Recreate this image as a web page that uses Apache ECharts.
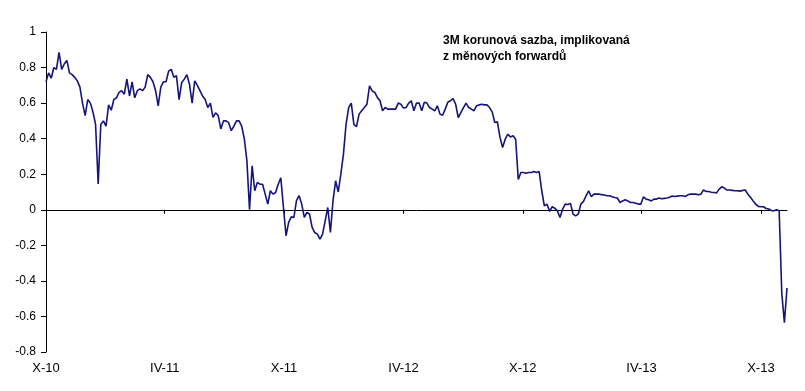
<!DOCTYPE html>
<html>
<head>
<meta charset="utf-8">
<script src="https://cdn.jsdelivr.net/npm/echarts@6/dist/echarts.min.js"></script>
<style>html,body{margin:0;padding:0;background:#fff}#c{width:805px;height:391px}</style>
</head>
<body>
<div id="c"></div>
<script>
// Observation start date and sampling step (calendar days)
const startDate = '2010-10-01';
const endDate = '2013-11-10';
const stepDays = 4;

// Tick labels (month in Roman numerals - year) and their dates
const tickLabels = ['X-10', 'IV-11', 'X-11', 'IV-12', 'X-12', 'IV-13', 'X-13'];
const tickDates = ['2010-10-01', '2011-04-01', '2011-10-01', '2012-04-01', '2012-10-01', '2013-04-01', '2013-10-01'];

// 3M CZK rate implied by FX forwards (%), one value every stepDays from startDate
const rateValues = [
  0.72, 0.77, 0.74, 0.80, 0.79, 0.885, 0.79, 0.82, 0.84, 0.77,
  0.76, 0.745, 0.725, 0.69, 0.60, 0.53, 0.62, 0.60, 0.55, 0.48,
  0.145, 0.48, 0.50, 0.47, 0.59, 0.56, 0.62, 0.63, 0.66, 0.67,
  0.65, 0.735, 0.64, 0.72, 0.63, 0.67, 0.68, 0.67, 0.69, 0.76,
  0.745, 0.72, 0.67, 0.585, 0.69, 0.72, 0.72, 0.78, 0.79, 0.745,
  0.755, 0.62, 0.715, 0.735, 0.76, 0.705, 0.60, 0.725, 0.70, 0.67,
  0.64, 0.62, 0.575, 0.60, 0.52, 0.545, 0.53, 0.455, 0.50, 0.50,
  0.49, 0.445, 0.47, 0.50, 0.50, 0.47, 0.40, 0.275, 0.0, 0.247,
  0.107, 0.154, 0.144, 0.144, 0.088, 0.032, 0.107, 0.088, 0.097, 0.144,
  0.18, 0.013, -0.146, -0.071, -0.04, -0.043, 0.051, 0.079, 0.032, -0.043,
  -0.015, -0.024, -0.099, -0.128, -0.137, -0.165, -0.137, -0.062, 0.013, -0.128,
  0.051, 0.163, 0.10, 0.20, 0.313, 0.482, 0.575, 0.60, 0.48, 0.467,
  0.538, 0.557, 0.575, 0.594, 0.697, 0.669, 0.66, 0.632, 0.613, 0.557,
  0.575, 0.566, 0.566, 0.566, 0.566, 0.60, 0.594, 0.572, 0.575, 0.60,
  0.613, 0.557, 0.60, 0.60, 0.557, 0.605, 0.60, 0.575, 0.566, 0.557,
  0.585, 0.538, 0.532, 0.566, 0.605, 0.613, 0.626, 0.594, 0.519, 0.547,
  0.575, 0.60, 0.575, 0.566, 0.557, 0.585, 0.59, 0.594, 0.59, 0.59,
  0.575, 0.551, 0.491, 0.495, 0.407, 0.35, 0.397, 0.425, 0.41, 0.416,
  0.397, 0.17, 0.21, 0.21, 0.206, 0.21, 0.21, 0.215, 0.21, 0.215,
  0.107, 0.022, 0.032, -0.009, 0.017, 0.009, -0.006, -0.043, 0.004, 0.032,
  0.03, 0.036, -0.024, -0.034, -0.024, 0.032, 0.047, 0.079, 0.107, 0.073,
  0.088, 0.088, 0.088, 0.085, 0.083, 0.079, 0.079, 0.073, 0.069, 0.066,
  0.041, 0.05, 0.056, 0.05, 0.041, 0.041, 0.037, 0.032, 0.032, 0.073,
  0.06, 0.056, 0.05, 0.06, 0.06, 0.066, 0.062, 0.064, 0.066, 0.07,
  0.077, 0.075, 0.077, 0.079, 0.079, 0.075, 0.084, 0.088, 0.088, 0.088,
  0.084, 0.088, 0.111, 0.103, 0.103, 0.099, 0.097, 0.095, 0.116, 0.129,
  0.122, 0.111, 0.111, 0.109, 0.107, 0.107, 0.105, 0.109, 0.111, 0.088,
  0.07, 0.05, 0.032, 0.019, 0.017, 0.017, 0.007, 0.004, -0.004, -0.006,
  0.0, -0.005, -0.47, -0.635, -0.44
];

const titleText = '3M korunová sazba, implikovaná\nz měnových forwardů';

const DAY = 86400000;
function dayOf(s) { return Math.round((Date.parse(s) - Date.parse(startDate)) / DAY); }
const tickDays = tickDates.map(dayOf);
const maxDay = dayOf(endDate);
const seriesData = rateValues.map((v, i) => [i * stepDays, v]);

const FONT = "'Liberation Sans', Arial, sans-serif";
const chart = echarts.init(document.getElementById('c'), null, { renderer: 'canvas' });
chart.setOption({
  animation: false,
  backgroundColor: '#ffffff',
  title: {
    text: titleText,
    left: 443, top: 33, padding: 0,
    textStyle: { fontFamily: FONT, fontSize: 12, fontWeight: 'bold', color: '#000', lineHeight: 16 }
  },
  grid: { left: 46, right: 18, top: 32, bottom: 39 },
  xAxis: [
    {
      type: 'value', min: 0, max: maxDay, position: 'bottom',
      axisLine: { show: true, onZero: true, lineStyle: { color: '#000', width: 1 } },
      axisTick: { show: true, customValues: tickDays, length: 4, lineStyle: { color: '#000' } },
      axisLabel: { show: false },
      splitLine: { show: false }
    },
    {
      type: 'value', min: 0, max: maxDay, position: 'bottom',
      axisLine: { show: false, onZero: false },
      axisTick: { show: false },
      splitLine: { show: false },
      axisLabel: {
        show: true, customValues: tickDays, margin: 10,
        fontFamily: FONT, fontSize: 13, color: '#000',
        formatter: function (v) { const k = tickDays.indexOf(Math.round(v)); return k >= 0 ? tickLabels[k] : ''; }
      }
    }
  ],
  yAxis: {
    type: 'value', min: -0.8, max: 1, interval: 0.2,
    axisLine: { show: true, lineStyle: { color: '#000', width: 1 } },
    axisTick: { show: true, length: 5, lineStyle: { color: '#000' } },
    splitLine: { show: false },
    axisLabel: {
      margin: 10, fontFamily: FONT, fontSize: 12, color: '#000',
      formatter: function (v) { return String(Math.round(v * 10) / 10); }
    }
  },
  series: [{
    type: 'line', xAxisIndex: 0, data: seriesData,
    showSymbol: false, symbol: 'none',
    lineStyle: { color: '#14147a', width: 1.6 },
    z: 3
  }]
});
</script>
</body>
</html>
